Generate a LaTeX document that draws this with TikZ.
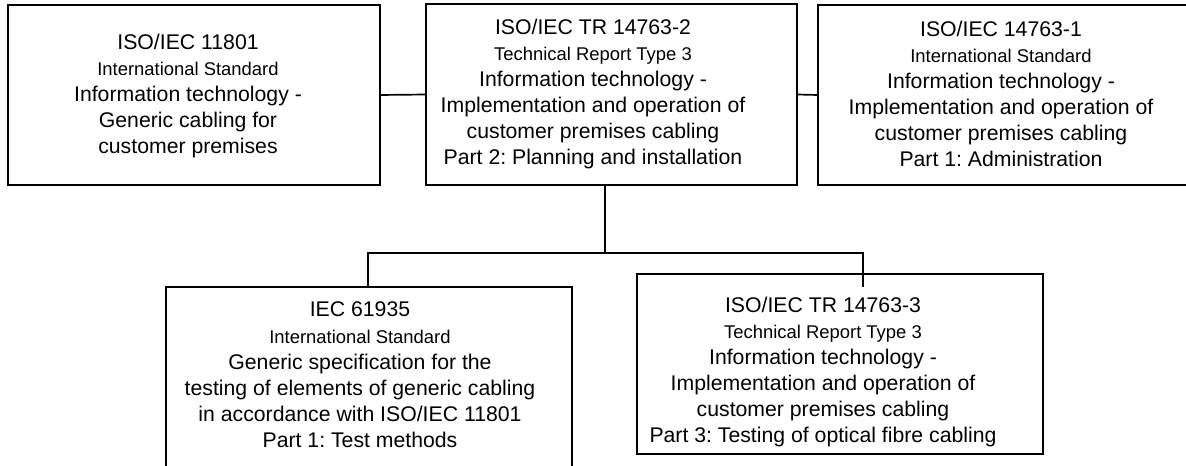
\documentclass[tikz,border=0pt]{standalone}
\usepackage{fontspec}
\setmainfont{Liberation Sans}
\frenchspacing
\newcommand\titlefont{\fontsize{15.1}{18.6}\selectfont}
\newcommand\notefont{\fontsize{13.1}{18.6}\selectfont}

\begin{document}
\begin{tikzpicture}[x=0.025cm, y=-0.025cm,
    stdbox/.style={draw, line width=1.2pt, inner sep=0pt, outer sep=0pt},
    stdtext/.style={align=center, inner sep=0pt, font=\titlefont},
    link/.style={line width=1.2pt}]
      \useasboundingbox (0,0) rectangle (1186,466);
      \clip (0,0) rectangle (1186,466);
      % boxes
      \node[stdbox, minimum width=9.3cm, minimum height=4.5cm] (cabling) at (194,95) {};
      \node[stdbox, minimum width=9.275cm, minimum height=4.525cm] (planning) at (611.5,94.5) {};
      \node[stdbox, minimum width=9.55cm, minimum height=4.5cm] (admin) at (1009,95) {};
      \node[stdbox, minimum width=10.15cm, minimum height=4.7cm] (testmeth) at (369,381) {};
      \node[stdbox, minimum width=10.15cm, minimum height=4.5cm] (optical) at (840,364) {};
      % texts
      \node[stdtext] (cablingtxt) at (188,96) {ISO/IEC 11801\\
        {\notefont International Standard}\\
        Information technology -\\
        Generic cabling for\\
        customer premises};
      \node[stdtext] (planningtxt) at (593,94) {ISO/IEC TR 14763-2\\
        {\notefont Technical Report Type 3}\\
        Information technology -\\
        Implementation and operation of\\
        customer premises cabling\\
        Part 2: Planning and installation};
      \node[stdtext] (admintxt) at (1001,94) {ISO/IEC 14763-1\\
        {\notefont International Standard}\\
        Information technology -\\
        Implementation and operation of\\
        customer premises cabling\\
        Part 1: Administration};
      \node[stdtext] (testmethtxt) at (360,375) {IEC 61935\\
        {\notefont International Standard}\\
        Generic specification for the\\
        testing of elements of generic cabling\\
        in accordance with ISO/IEC 11801\\
        Part 1: Test methods};
      \node[stdtext] (opticaltxt) at (823,372) {ISO/IEC TR 14763-3\\
        {\notefont Technical Report Type 3}\\
        Information technology -\\
        Implementation and operation of\\
        customer premises cabling\\
        Part 3: Testing of optical fibre cabling};
      % connectors
      \coordinate (split) at (605,253);
      \coordinate (busL) at (368,253);
      \coordinate (busR) at (863,253);
      \coordinate (opticaltip) at (863,287);
      \draw[link] (cabling.east) -- (planning.west);
      \draw[link] (planning.east) -- (admin.west);
      \draw[link] (planning.south -| split) -- (split);
      \draw[link] (testmeth.north -| busL) -- (busL) -- (busR) -- (opticaltip);
\end{tikzpicture}
\end{document}
